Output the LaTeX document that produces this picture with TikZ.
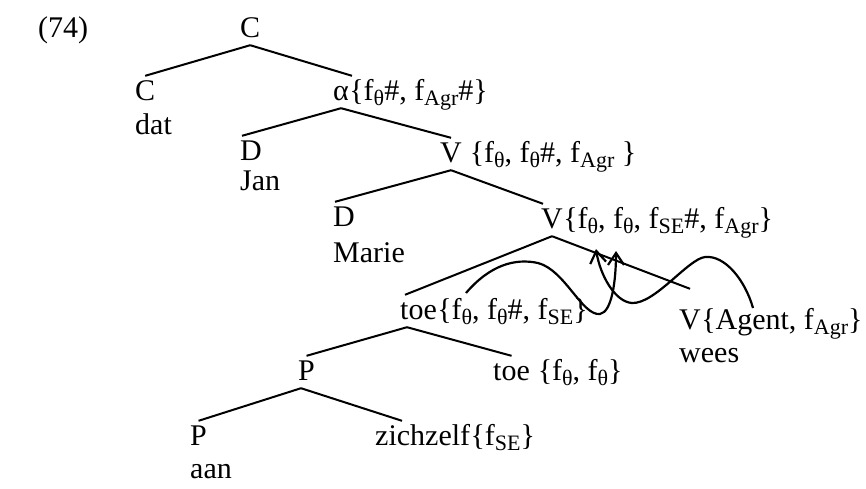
\documentclass[tikz,border=0pt]{standalone}
\usepackage{fontspec}
\setmainfont{Liberation Serif}
\usetikzlibrary{arrows.meta,positioning}
\newcommand{\sbs}[1]{\raisebox{-5pt}{\fontsize{22}{22}\selectfont #1}}
\tikzset{
  cat/.style={anchor=base west,inner xsep=0pt,inner ysep=5pt,
    text height=19pt,text depth=3pt},
  feat/.style={anchor=base west,inner sep=0pt},
  lex/.style={anchor=base west,inner sep=0pt},
  branch/.style={line width=2pt},
  move/.style={-{Straight Barb[length=12pt,width=16pt,line width=2.2pt]},line width=2.2pt}
}

\begin{document}
\begin{tikzpicture}[x=1pt,y=-1pt,font=\fontsize{30}{35}\selectfont]
  \useasboundingbox (0,0) rectangle (866,488);
  \node[lex] (ex) at (38,37) {(74)};
  % categories
  \node[cat] (c0) at (240,37) {C};
  \node[cat] (c1) at (135,100) {C};
  \node[cat] (al) at (333,100) {α};
  \node[cat] (d1) at (240,160) {D};
  \node[cat] (v1) at (440,162) {V};
  \node[cat] (d2) at (333,226) {D};
  \node[cat] (v2) at (541,228) {V};
  \node[cat] (t1) at (400,319) {toe};
  \node[cat] (v3) at (679,329) {V};
  \node[cat] (p1) at (298,380) {P};
  \node[cat] (t2) at (493,380) {toe};
  \node[cat] (p2) at (190,445) {P};
  \node[cat] (zz) at (375,445) {zichzelf};
  % feature sets
  \node[feat] (alf) at (al.base east) {\{f\sbs{θ}\#, f\sbs{Agr}\#\}};
  \node[feat] (v1f) at (v1.base east) {\ \{f\sbs{θ}, f\sbs{θ}\#, f\sbs{Agr} \}};
  \node[feat] (v2f) at (v2.base east) {\{f\sbs{θ}, f\sbs{θ}, f\sbs{SE}\#, f\sbs{Agr}\}};
  \node[feat] (t1f) at (t1.base east) {\{f\sbs{θ}, f\sbs{θ}\#, f\sbs{SE}\}};
  \node[feat] (v3f) at (v3.base east) {\{Agent, f\sbs{Agr}\}};
  \node[feat] (t2f) at (t2.base east) {\ \{f\sbs{θ}, f\sbs{θ}\}};
  \node[feat] (zzf) at (zz.base east) {\{f\sbs{SE}\}};
  % words
  \node[lex] (dat) at ([yshift=-34pt]c1.base west) {dat};
  \node[lex] (jan) at ([yshift=-30pt]d1.base west) {Jan};
  \node[lex] (marie) at ([yshift=-36pt]d2.base west) {Marie};
  \node[lex] (wees) at ([yshift=-33pt]v3.base west) {wees};
  \node[lex] (aan) at ([yshift=-33pt]p2.base west) {aan};
  % branches
  \draw[branch] (c0.south) -- (c1.north);
  \draw[branch] (c0.south) -- ([xshift=19pt]al.north west);
  \draw[branch] (al.south) -- ([xshift=2pt]d1.north west);
  \draw[branch] (al.south) -- (v1.north);
  \draw[branch] (v1.south) -- ([xshift=2pt]d2.north west);
  \draw[branch] (v1.south) -- ([xshift=2pt]v2.north west);
  \draw[branch] (v2.south) -- ([xshift=5pt]t1.north west);
  \draw[branch] (v2.south) -- ([yshift=16pt]v3.north);
  \draw[branch] ([xshift=7pt]t1.south west) -- (p1.north);
  \draw[branch] ([xshift=7pt]t1.south west) -- (t2.north);
  \draw[branch] ([xshift=3pt]p1.south west) -- (p2.north);
  \draw[branch] ([xshift=3pt]p1.south west) -- ([xshift=27pt]zz.north west);
  % feature movement
  \coordinate (srcA) at (466,293);
  \coordinate (tipA) at (616,251);
  \coordinate (srcB) at (753,308);
  \coordinate (tipB) at (596,249);
  \draw[move] (srcA) .. controls (490,265) and (515,258) .. (538,263)
    .. controls (565,270) and (582,316) .. (600,314)
    .. controls (612,312) and (616,280) .. (tipA);
  \draw[move] (srcB) .. controls (745,280) and (725,255) .. (705,257)
    .. controls (688,259) and (655,304) .. (632,303)
    .. controls (615,302) and (600,275) .. (tipB);
\end{tikzpicture}
\end{document}
